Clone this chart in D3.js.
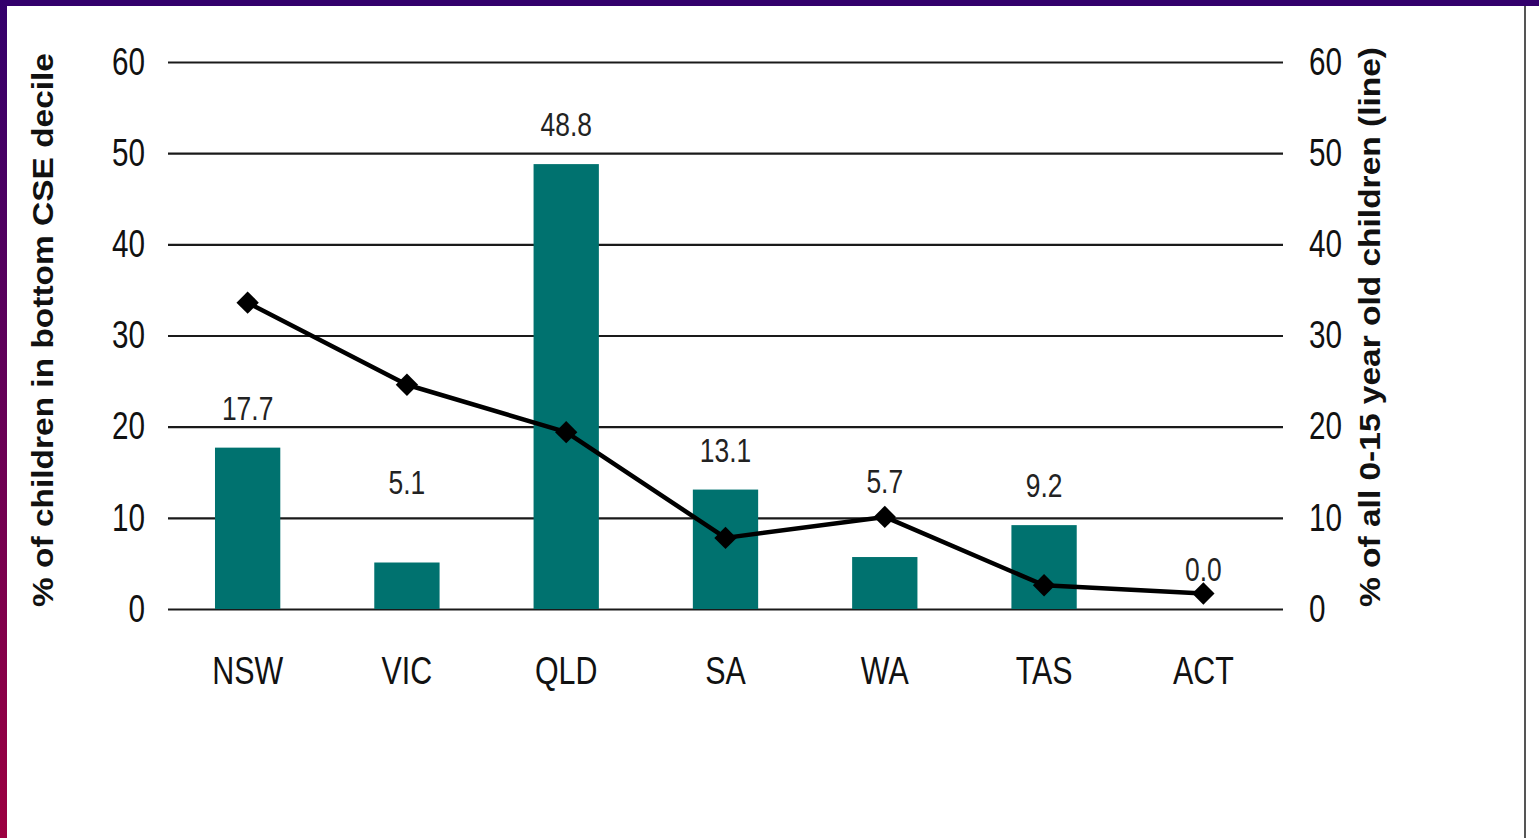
<!DOCTYPE html>
<html>
<head>
<meta charset="utf-8">
<script src="https://cdn.jsdelivr.net/npm/d3@7"></script>
<style>
  body { margin: 0; background: #fff; }
  .tick text { font-family: "Liberation Sans", Arial, sans-serif; fill: #111; }
</style>
</head>
<body>
<div class="chart"></div>
<script>
var svgWidth = 1539;
var svgHeight = 838;

// data
var states = ["NSW", "VIC", "QLD", "SA", "WA", "TAS", "ACT"];
var cseShare = [17.7, 5.1, 48.8, 13.1, 5.7, 9.2, 0.0];      // bars, left axis
var childShare = [33.6, 24.6, 19.4, 7.8, 10.1, 2.6, 1.7];   // line, right axis
var yTicks = [0, 10, 20, 30, 40, 50, 60];

var plot = { left: 168, right: 1283, top: 62, bottom: 609 };

var svg = d3.select(".chart")
  .append("svg")
  .attr("width", svgWidth)
  .attr("height", svgHeight);

// squeeze text horizontally to look like the narrow font of the original
function narrow(sel, k) {
  sel.each(function() {
    var w = this.getComputedTextLength();
    d3.select(this).attr("textLength", w * k).attr("lengthAdjust", "spacingAndGlyphs");
  });
}

// frame: purple top strip, gradient left strip, grey rule on the right
var grad = svg.append("defs").append("linearGradient")
  .attr("id", "sideGrad")
  .attr("x1", 0).attr("y1", 0).attr("x2", 0).attr("y2", 1);
grad.append("stop").attr("offset", "0%").attr("stop-color", "#33006c");
grad.append("stop").attr("offset", "100%").attr("stop-color", "#9c0040");

svg.append("rect").attr("x", 0).attr("y", 0).attr("width", svgWidth).attr("height", 6).attr("fill", "#33006c");
svg.append("rect").attr("x", 0).attr("y", 0).attr("width", 7).attr("height", svgHeight).attr("fill", "url(#sideGrad)");
svg.append("line")
  .attr("x1", 1525).attr("x2", 1525).attr("y1", 6).attr("y2", svgHeight)
  .attr("stroke", "#555").attr("stroke-width", 2);

// scales
var xScale = d3.scaleBand()
  .domain(states)
  .range([plot.left, plot.right])
  .paddingInner(0.59)
  .paddingOuter(0.295);

var yLeft = d3.scaleLinear().domain([0, 60]).range([plot.bottom, plot.top]);
var yRight = d3.scaleLinear().domain([0, 60]).range([plot.bottom, plot.top]);

// left axis with gridlines
var leftAxis = svg.append("g")
  .attr("transform", `translate(${plot.left}, 0)`)
  .call(d3.axisLeft(yLeft).tickValues(yTicks).tickSizeInner(-(plot.right - plot.left)).tickSizeOuter(0).tickPadding(23));
leftAxis.select(".domain").remove();
leftAxis.selectAll(".tick line").attr("stroke", "#1a1a1a").attr("stroke-width", 2.2);
leftAxis.selectAll(".tick text").attr("font-size", 38).call(narrow, 0.78);

// right axis
var rightAxis = svg.append("g")
  .attr("transform", `translate(${plot.right}, 0)`)
  .call(d3.axisRight(yRight).tickValues(yTicks).tickSize(0).tickPadding(26));
rightAxis.select(".domain").remove();
rightAxis.selectAll(".tick text").attr("font-size", 38).call(narrow, 0.78);

// category axis
var bottomAxis = svg.append("g")
  .attr("transform", `translate(0, ${plot.bottom})`)
  .call(d3.axisBottom(xScale).tickSize(0).tickPadding(48));
bottomAxis.select(".domain").remove();
bottomAxis.selectAll(".tick text").attr("font-size", 38).call(narrow, 0.8);

// bars
svg.selectAll("rect.bar")
  .data(states)
  .enter()
  .append("rect")
  .attr("class", "bar")
  .attr("x", d => xScale(d))
  .attr("width", xScale.bandwidth())
  .attr("y", (d, i) => yLeft(cseShare[i]))
  .attr("height", (d, i) => yLeft(0) - yLeft(cseShare[i]))
  .attr("fill", "#00726f");

// bar value labels (VIC and WA sit higher, clear of the line)
var labelLift = { VIC: 41, WA: 36 };
svg.selectAll("text.val")
  .data(states)
  .enter()
  .append("text")
  .attr("class", "val")
  .attr("x", d => xScale(d) + xScale.bandwidth() / 2)
  .attr("y", (d, i) => yLeft(cseShare[i]) - 28 - (labelLift[d] || 0))
  .attr("text-anchor", "middle")
  .attr("font-family", "'Liberation Sans', Arial, sans-serif")
  .attr("font-size", 33)
  .attr("fill", "#222")
  .text((d, i) => d3.format(".1f")(cseShare[i]))
  .call(narrow, 0.8);

// line
var lineGen = d3.line()
  .x((d, i) => xScale(states[i]) + xScale.bandwidth() / 2)
  .y(d => yRight(d));

svg.append("path")
  .datum(childShare)
  .attr("d", lineGen)
  .attr("fill", "none")
  .attr("stroke", "#000")
  .attr("stroke-width", 4.5)
  .attr("stroke-linejoin", "round");

svg.selectAll("path.marker")
  .data(childShare)
  .enter()
  .append("path")
  .attr("class", "marker")
  .attr("d", d3.symbol().type(d3.symbolSquare).size(250))
  .attr("transform", (d, i) => `translate(${xScale(states[i]) + xScale.bandwidth() / 2}, ${yRight(d)}) rotate(45)`)
  .attr("fill", "#000");

// axis titles
svg.append("text")
  .attr("transform", "translate(53, 330) rotate(-90)")
  .attr("text-anchor", "middle")
  .attr("font-family", "'Liberation Sans', Arial, sans-serif")
  .attr("font-weight", "bold")
  .attr("font-size", 29)
  .attr("fill", "#111")
  .attr("textLength", 554)
  .attr("lengthAdjust", "spacingAndGlyphs")
  .text("% of children in bottom CSE decile");

svg.append("text")
  .attr("transform", "translate(1380, 327) rotate(-90)")
  .attr("text-anchor", "middle")
  .attr("font-family", "'Liberation Sans', Arial, sans-serif")
  .attr("font-weight", "bold")
  .attr("font-size", 29)
  .attr("fill", "#111")
  .attr("textLength", 560)
  .attr("lengthAdjust", "spacingAndGlyphs")
  .text("% of all 0-15 year old children (line)");
</script>
</body>
</html>
